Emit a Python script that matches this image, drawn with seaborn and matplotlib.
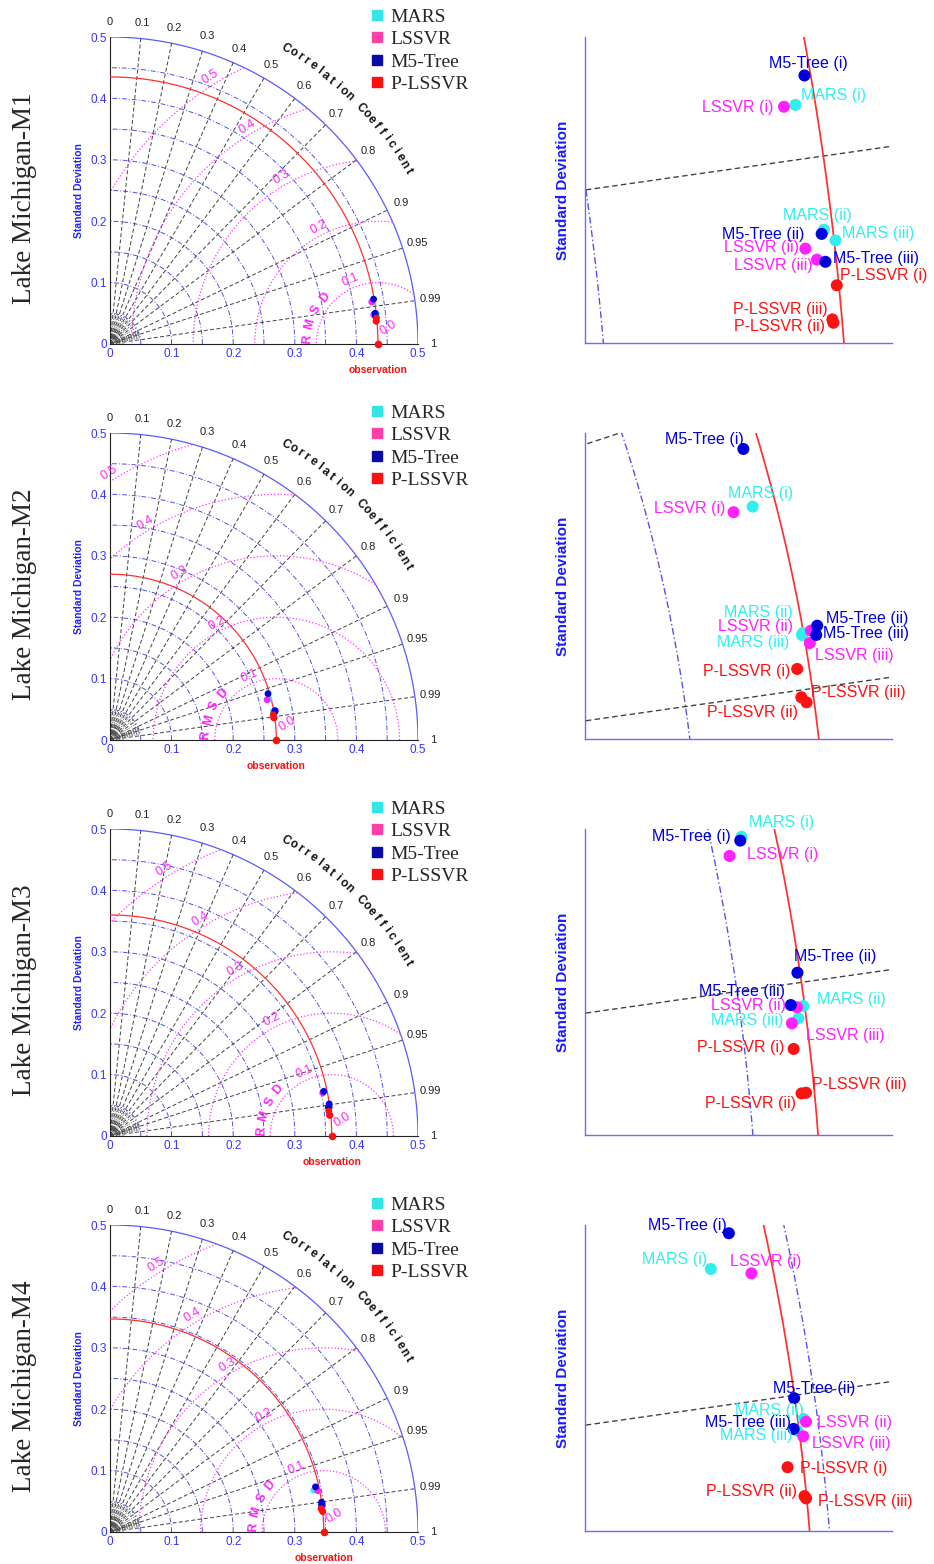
import numpy as np
import pandas as pd
import matplotlib.pyplot as plt
import seaborn as sns
from matplotlib.lines import Line2D

sns.set_style('white')
plt.rcParams['font.family'] = ['Liberation Sans', 'DejaVu Sans']

#==========================================================
# datos (desviación estándar y correlación de cada modelo)
#==========================================================
models = ['MARS', 'LSSVR', 'M5-Tree', 'P-LSSVR']
cases = ['i', 'ii', 'iii']
stations = ['Lake Michigan-M1', 'Lake Michigan-M2', 'Lake Michigan-M3', 'Lake Michigan-M4']
obs_std = [0.435, 0.270, 0.360, 0.347]

# filas: MARS, LSSVR, M5-Tree, P-LSSVR ; columnas: caso i, ii, iii
std_m1 = [[0.4321, 0.4337, 0.4352], [0.4304, 0.4307, 0.4322], [0.4341, 0.4333, 0.4334], [0.4347, 0.4337, 0.4336]]
corr_m1 = [[0.98723, 0.99317, 0.99363], [0.98723, 0.99381, 0.99426], [0.98571, 0.99332, 0.99437], [0.99521, 0.99635, 0.99625]]

std_m2 = [[0.2664, 0.2699, 0.2697], [0.2633, 0.2712, 0.2707], [0.2674, 0.2723, 0.2719], [0.2681, 0.2688, 0.2681]]
corr_m2 = [[0.96836, 0.98489, 0.98506], [0.96846, 0.98479, 0.98597], [0.95933, 0.98441, 0.98530], [0.98816, 0.99103, 0.99058]]

std_m3 = [[0.3548, 0.3598, 0.3588], [0.3524, 0.3588, 0.3577], [0.3545, 0.3596, 0.3579], [0.3575, 0.3580, 0.3587]]
corr_m3 = [[0.97850, 0.99138, 0.99201], [0.97994, 0.99140, 0.99224], [0.97881, 0.98938, 0.99123], [0.99355, 0.99556, 0.99555]]

std_m4 = [[0.3378, 0.3479, 0.3467], [0.3437, 0.3482, 0.3475], [0.3416, 0.3469, 0.3462], [0.3446, 0.3467, 0.3469]]
corr_m4 = [[0.97947, 0.99146, 0.99206], [0.98056, 0.99163, 0.99240], [0.97657, 0.99017, 0.99194], [0.99388, 0.99527, 0.99537]]

all_std = [std_m1, std_m2, std_m3, std_m4]
all_corr = [corr_m1, corr_m2, corr_m3, corr_m4]

corr_ticks = [0, 0.1, 0.2, 0.3, 0.4, 0.5, 0.6, 0.7, 0.8, 0.9, 0.95, 0.99, 1]
corr_tick_labels = ['0', '0.1', '0.2', '0.3', '0.4', '0.5', '0.6', '0.7', '0.8', '0.9', '0.95', '0.99', '1']
rmsd_levels = [0.1, 0.2, 0.3, 0.4, 0.5]

#==========================================================
# estilo / disposición
#==========================================================
colors = {'MARS': '#33EEEE', 'LSSVR': '#FF22FF', 'M5-Tree': '#0000DD', 'P-LSSVR': '#FF1111'}
legend_colors = ['#33E6E6', '#FF3FA8', '#0A0AA8', '#FF1010']

# ventana de zoom (x0, y0, escala px por unidad)
zoom_win = [(0.39586, 0.03407, 6850), (0.2318, 0.0302, 6405), (0.3231, 0.0273, 6500), (0.3118, 0.0284, 6600)]

# desplazamiento de etiquetas en el zoom (dx, dy en pixeles, alineación)
label_offsets = [
    [[(6, 9, 'left'), (-7, 14, 'center'), (7, 7, 'left')],
     [(-11, -1, 'right'), (-6, 1, 'right'), (-4, -6, 'right')],
     [(4, 12, 'center'), (-17, -1, 'right'), (8, 3, 'left')],
     [(3, 10, 'left'), (-8, -4, 'right'), (-5, 10, 'right')]],
    [[(-25, 13, 'left'), (-10, 21, 'right'), (-13, -8, 'right')],
     [(-8, 4, 'right'), (-18, 4, 'right'), (5, -12, 'left')],
     [(0, 9, 'right'), (9, 7, 'left'), (7, 1, 'left')],
     [(-7, -3, 'right'), (-9, -10, 'right'), (10, 5, 'left')]],
    [[(8, 14, 'left'), (14, 7, 'left'), (-15, -2, 'right')],
     [(17, 1, 'left'), (-11, 2, 'right'), (14, -12, 'left')],
     [(-10, 4, 'right'), (-3, 16, 'left'), (-6, 14, 'right')],
     [(-9, 1, 'right'), (-6, -10, 'right'), (6, 8, 'left')]],
    [[(-4, 9, 'right'), (0, 8, 'right'), (-5, -5, 'right')],
     [(-21, 12, 'left'), (11, -1, 'left'), (9, -7, 'left')],
     [(-2, 8, 'right'), (-21, 10, 'left'), (-3, 6, 'right')],
     [(12, -1, 'left'), (-8, 5, 'right'), (12, -3, 'left')]],
]

W, H = 934, 1564
ROW = 396

def box(x0, y0, x1, y1):
    return [x0 / W, 1 - y1 / H, (x1 - x0) / W, (y1 - y0) / H]

th = np.linspace(0, np.pi / 2, 400)
phi = np.linspace(0, np.pi, 800)

def draw_grid(ax, obs, lw):
    for r in np.arange(0.05, 0.49, 0.05):
        ax.plot(r * np.cos(th), r * np.sin(th), color='#5050E8', lw=0.7 * lw, dashes=(5, 2, 1, 2), zorder=1)
    ax.plot(0.5 * np.cos(th), 0.5 * np.sin(th), color='#5A5AFF', lw=0.9 * lw, zorder=1)
    for R in corr_ticks[1:-1]:
        a = np.arccos(R)
        ax.plot([0, 0.5 * np.cos(a)], [0, 0.5 * np.sin(a)], color='#404040', lw=0.7 * lw, dashes=(4, 2.5), zorder=1)
    for rm in rmsd_levels:
        x = obs + rm * np.cos(phi)
        y = rm * np.sin(phi)
        keep = (x >= 0) & (np.hypot(x, y) <= 0.5)
        ax.plot(np.where(keep, x, np.nan), np.where(keep, y, np.nan), color='#FF33FF', lw=0.9 * lw, ls=':', zorder=2)
    ax.plot(obs * np.cos(th), obs * np.sin(th), color='#FF3030', lw=0.9 * lw, zorder=3)


fig = plt.figure(figsize=(W / 100, H / 100), dpi=100)

for k in range(4):
    dy = ROW * k
    obs = obs_std[k]
    std = np.array(all_std[k])
    corr = np.array(all_corr[k])
    df = pd.DataFrame({
        'model': np.repeat(models, 3),
        'case': cases * 4,
        'x': (std * corr).ravel(),
        'y': (std * np.sqrt(1 - corr ** 2)).ravel(),
    })

    #------------------- diagrama de Taylor -------------------
    ax = fig.add_axes(box(110, 37 + dy, 418, 344 + dy))
    draw_grid(ax, obs, 1.0)

    # trazos finos cerca del origen
    for R in list(np.arange(0.05, 0.9, 0.1)) + list(np.arange(0.91, 0.985, 0.01)):
        a = np.arccos(R)
        ax.plot([0, 0.05 * np.cos(a)], [0, 0.05 * np.sin(a)], color='#555555', lw=0.5, dashes=(2, 1.5), zorder=1)
    for r in [0.006, 0.011, 0.016, 0.021]:
        ax.plot(r * np.cos(th), r * np.sin(th), color='#333333', lw=0.6, ls=':', zorder=1)

    sns.scatterplot(data=df, x='x', y='y', hue='model', hue_order=models, palette=colors,
                    s=24, linewidth=0, legend=False, ax=ax, zorder=5)
    ax.scatter([obs], [0], color='#FF1010', s=20, zorder=6, clip_on=False)

    for R, lab in zip(corr_ticks, corr_tick_labels):
        a = np.arccos(R)
        ax.text(0.525 * np.cos(a), 0.525 * np.sin(a), lab, fontsize=8, ha='center', va='center', color='#222222')
    title = 'Correlation Coefficient'
    for ch, ang in zip(title, np.linspace(59.3, 30.2, len(title))):
        a = np.radians(ang)
        ax.text(0.56 * np.cos(a), 0.56 * np.sin(a), ch, rotation=ang - 90, rotation_mode='anchor',
                ha='center', va='center', fontsize=8.5, fontweight='bold', color='#111111')

    for rm, ang in zip(rmsd_levels, [113, 117, 120, 121, 122]):
        a = np.radians(ang)
        ax.text(obs + (rm + 0.013) * np.cos(a), (rm + 0.013) * np.sin(a), f'{rm:.1f}', rotation=ang - 90,
                ha='center', va='center', fontsize=9, color='#FF22FF', clip_on=False)
    ax.text(obs + 0.017, 0.026, '0.0', rotation=32, ha='center', va='center', fontsize=9, color='#FF22FF')
    for ch, ang in zip('RMSD', [176, 164, 151, 139]):
        a = np.radians(ang)
        ax.text(obs + 0.115 * np.cos(a), 0.115 * np.sin(a), ch, rotation=ang - 90, ha='center', va='center',
                fontsize=9, fontweight='bold', color='#FF22FF')

    ax.text(obs, -0.043, 'observation', color='#FF1010', fontweight='bold', fontsize=7.5,
            ha='center', va='center')

    ax.set_xlim(0, 0.5)
    ax.set_ylim(0, 0.5)
    ax.set_xticks(np.arange(0, 0.51, 0.1))
    ax.set_yticks(np.arange(0, 0.51, 0.1))
    ax.set_xticklabels(['0', '0.1', '0.2', '0.3', '0.4', '0.5'])
    ax.set_yticklabels(['0', '0.1', '0.2', '0.3', '0.4', '0.5'])
    ax.tick_params(length=0, labelsize=8.5, labelcolor='#3535FF', pad=3)
    ax.tick_params(axis='y', pad=2)
    for s in ['top', 'right']:
        ax.spines[s].set_visible(False)
    for s in ['left', 'bottom']:
        ax.spines[s].set_color('#222222')
        ax.spines[s].set_linewidth(0.8)
    ax.set_xlabel('')
    ax.set_ylabel('Standard Deviation', color='#2222FF', fontweight='bold', fontsize=7.5)
    ax.yaxis.set_label_coords(-0.085, 0.5)

    handles = [Line2D([], [], ls='', marker='s', ms=7.5, mfc=c, mec=c) for c in legend_colors]
    ax.legend(handles, models, loc='upper left', bbox_to_anchor=(372 / W, 1 - (8 + dy) / H),
              bbox_transform=fig.transFigure, frameon=False,
              prop={'family': 'Liberation Serif', 'size': 14}, handlelength=0.5, handletextpad=0.45,
              labelspacing=0.25, borderpad=0, borderaxespad=0)

    fig.text(25 / W, 1 - (198.5 + dy) / H, stations[k], rotation=90, ha='center', va='center',
             family='Liberation Serif', fontsize=19.5)

    #------------------- zoom -------------------
    az = fig.add_axes(box(585, 37 + dy, 892, 343 + dy))
    draw_grid(az, obs, 1.4)
    sns.scatterplot(data=df, x='x', y='y', hue='model', hue_order=models, palette=colors,
                    s=75, linewidth=0, legend=False, ax=az, zorder=5)
    for i, m in enumerate(models):
        for j, c in enumerate(cases):
            row = df[(df['model'] == m) & (df['case'] == c)].iloc[0]
            ddx, ddy, ha = label_offsets[k][i][j]
            az.annotate(f'{m} ({c})', xy=(row['x'], row['y']), xytext=(ddx, ddy),
                        textcoords='offset pixels', ha=ha, va='center', fontsize=11.5,
                        color=colors[m], zorder=7)
    x0, y0, sc = zoom_win[k]
    az.set_xlim(x0, x0 + 307 / sc)
    az.set_ylim(y0, y0 + 306 / sc)
    az.set_xticks([])
    az.set_yticks([])
    for s in ['top', 'right']:
        az.spines[s].set_visible(False)
    for s in ['left', 'bottom']:
        az.spines[s].set_color('#6B6BFF')
        az.spines[s].set_linewidth(1.0)
    az.set_xlabel('')
    az.set_ylabel('Standard Deviation', color='#1A1AFF', fontweight='bold', fontsize=11)
    az.yaxis.set_label_coords(-0.05, 0.5)

fig.savefig('out.png', dpi=100)
